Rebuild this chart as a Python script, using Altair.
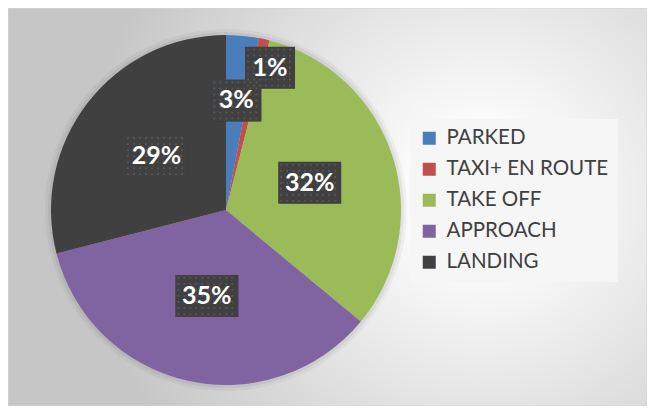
import altair as alt
import pandas as pd

categories = ["PARKED", "TAXI+ EN ROUTE", "TAKE OFF", "APPROACH", "LANDING"]
values = [3, 1, 32, 35, 29]
colors = ["#4A7EBB", "#C0504D", "#9BBB59", "#8064A2", "#404040"]

W, H = 639, 398
CX, CY, R = 218, 202, 175

df = pd.DataFrame({"cat": categories, "value": values, "idx": list(range(len(categories)))})

bg_grad = alt.RadialGradient(
    gradient="radial",
    x1=0.74, y1=0.48, x2=0.74, y2=0.48, r1=0, r2=0.62,
    stops=[
        alt.GradientStop(offset=0, color="#ffffff"),
        alt.GradientStop(offset=0.18, color="#fbfbfb"),
        alt.GradientStop(offset=1, color="#c6c6c6"),
    ],
)

background = alt.Chart(pd.DataFrame({"a": [0]})).mark_rect(
    fill=bg_grad, stroke="#d4d4d4", strokeWidth=1
).encode(x=alt.value(0), x2=alt.value(W), y=alt.value(0), y2=alt.value(H))

base = alt.Chart(df)

halo1 = base.mark_arc(radius=R + 6, color="#000000", opacity=0.04).encode(
    theta=alt.Theta("value:Q", stack=True), order=alt.Order("idx:Q"),
    x=alt.value(CX), y=alt.value(CY))
halo2 = base.mark_arc(radius=R + 3, color="#000000", opacity=0.05).encode(
    theta=alt.Theta("value:Q", stack=True), order=alt.Order("idx:Q"),
    x=alt.value(CX), y=alt.value(CY))

pie = base.mark_arc(radius=R, strokeWidth=0).encode(
    theta=alt.Theta("value:Q", stack=True),
    color=alt.Color(
        "cat:N",
        scale=alt.Scale(domain=categories, range=colors),
        sort=categories,
        legend=alt.Legend(
            orient="none", legendX=402, legendY=111, title=None,
            fillColor="#f6f6f6", padding=9,
            symbolType="square", symbolSize=169, symbolStrokeWidth=0, symbolOpacity=1,
            labelFont="Lato", labelFontSize=20.5, labelColor="#404040",
            labelOffset=7, labelLimit=400, rowPadding=10,
        ),
    ),
    order=alt.Order("idx:Q"),
    x=alt.value(CX), y=alt.value(CY),
)

lab = base.transform_window(
    cum="sum(value)", sort=[alt.SortField("idx")], frame=[None, 0]
).transform_joinaggregate(total="sum(value)").transform_calculate(
    ang="2*PI*(datum.cum - datum.value/2)/datum.total + (datum.value < 2 ? 0.08 : 0)",
    r="datum.value < 2 ? 149 : (datum.value < 5 ? 110 : 88)",
).transform_calculate(
    lx=f"{CX} + datum.r*sin(datum.ang)",
    ly=f"{CY} - datum.r*cos(datum.ang)",
    label="format(datum.value/datum.total, '.0%')",
).transform_calculate(
    bw="13*length(datum.label) + 24",
).transform_calculate(
    bx1="datum.lx - datum.bw/2", bx2="datum.lx + datum.bw/2",
    by1="datum.ly - 21", by2="datum.ly + 21",
)

def boxes(color, opacity, off):
    return lab.mark_rect(color=color, opacity=opacity, xOffset=off, yOffset=off).encode(
        x=alt.X("bx1:Q", scale=None, axis=None), x2="bx2:Q",
        y=alt.Y("by1:Q", scale=None, axis=None), y2="by2:Q",
    )

shadow1 = boxes("#000000", 0.10, 5)
shadow2 = boxes("#000000", 0.18, 3)
box = boxes("#404040", 1, 0)

# dotted texture inside the label boxes
dots = lab.transform_calculate(
    ci="sequence(0, floor(datum.bw/6))", ri="sequence(0, 7)"
).transform_flatten(["ci"]).transform_flatten(["ri"]).transform_calculate(
    dx_="datum.bx1 + 3 + 6*datum.ci", dy_="datum.by1 + 3 + 6*datum.ri"
).mark_square(size=3.5, color="#585858", opacity=1, strokeWidth=0).encode(
    x=alt.X("dx_:Q", scale=None, axis=None),
    y=alt.Y("dy_:Q", scale=None, axis=None),
)

text = lab.mark_text(
    font="Lato", fontWeight="bold", fontSize=25, color="white", baseline="middle", align="center"
).encode(
    x=alt.X("lx:Q", scale=None, axis=None),
    y=alt.Y("ly:Q", scale=None, axis=None),
    text="label:N",
)

chart = alt.layer(background, halo1, halo2, pie, shadow1, shadow2, box, dots, text).properties(
    width=W, height=H, padding=0, autosize=alt.AutoSizeParams(type="none")
).configure_view(stroke=None)

chart.save("out.html", embed_options={"renderer": "svg", "actions": False})
